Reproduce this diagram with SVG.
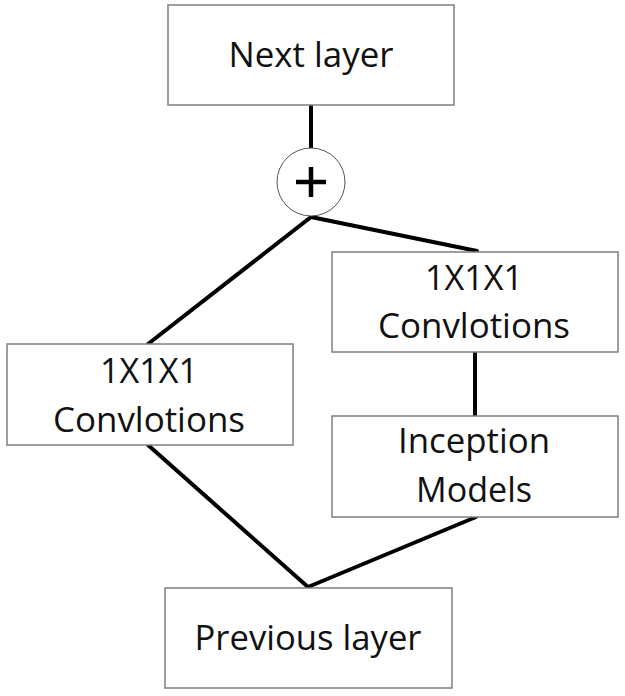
<svg xmlns="http://www.w3.org/2000/svg" width="625" height="696" viewBox="0 0 625 696">
<style>
.box{fill:#fff;stroke:#7f7f7f;stroke-width:1.5}
.t{font-family:"Open Sans","Noto Sans","Liberation Sans",sans-serif;font-size:34px;fill:#111;text-anchor:middle}
.c{stroke:#000;stroke-width:4;fill:none;stroke-linecap:round}
</style>
<rect width="625" height="696" fill="#fff"/>
<g id="connectors">
<line class="c" x1="311" y1="106" x2="311" y2="148"/>
<line class="c" x1="311" y1="217" x2="148" y2="344"/>
<line class="c" x1="311" y1="217" x2="477" y2="251"/>
<line class="c" x1="475" y1="352" x2="475" y2="416"/>
<line class="c" x1="148" y1="445" x2="308" y2="587"/>
<line class="c" x1="476" y1="517" x2="308" y2="587"/>
</g>
<g id="next">
<rect class="box" x="168" y="5" width="286" height="100"/>
<text class="t" x="311" y="67" textLength="165" lengthAdjust="spacingAndGlyphs">Next layer</text>
</g>
<g id="sum">
<circle cx="311" cy="182" r="34" fill="#fff" stroke="#555" stroke-width="1"/>
<line x1="296" y1="182" x2="326" y2="182" stroke="#000" stroke-width="4.5"/>
<line x1="311" y1="167" x2="311" y2="197" stroke="#000" stroke-width="4.5"/>
</g>
<g id="conv-left">
<rect class="box" x="7" y="344" width="286" height="101"/>
<text class="t" x="149" y="383" textLength="98" lengthAdjust="spacingAndGlyphs">1X1X1</text>
<text class="t" x="149" y="432" textLength="192" lengthAdjust="spacingAndGlyphs">Convlotions</text>
</g>
<g id="conv-right">
<rect class="box" x="332" y="252" width="286" height="100"/>
<text class="t" x="474" y="290" textLength="98" lengthAdjust="spacingAndGlyphs">1X1X1</text>
<text class="t" x="474" y="338" textLength="192" lengthAdjust="spacingAndGlyphs">Convlotions</text>
</g>
<g id="inception">
<rect class="box" x="332" y="416" width="286" height="101"/>
<text class="t" x="474" y="453" textLength="152" lengthAdjust="spacingAndGlyphs">Inception</text>
<text class="t" x="474" y="502" textLength="116" lengthAdjust="spacingAndGlyphs">Models</text>
</g>
<g id="previous">
<rect class="box" x="165" y="588" width="287" height="100"/>
<text class="t" x="308" y="650" textLength="227" lengthAdjust="spacingAndGlyphs">Previous layer</text>
</g>
</svg>
